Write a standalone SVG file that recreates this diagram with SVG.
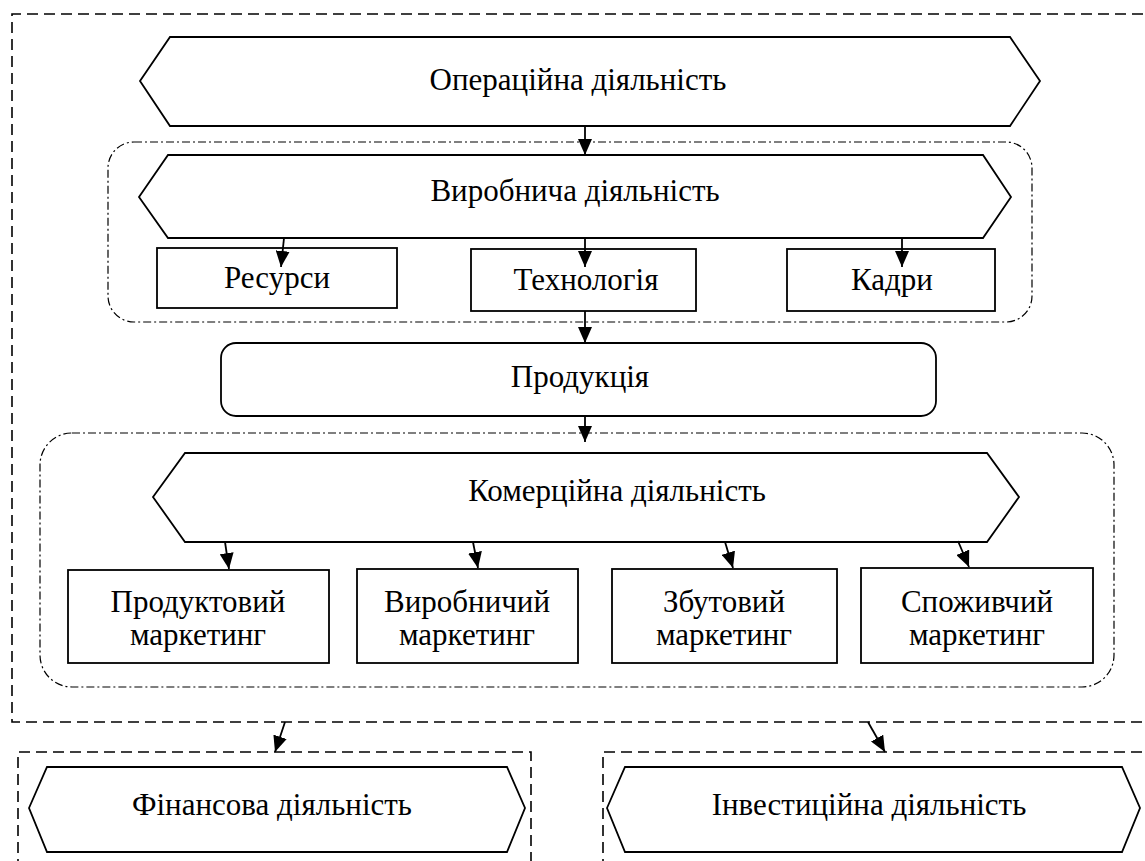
<svg xmlns="http://www.w3.org/2000/svg" width="1145" height="861" viewBox="0 0 1145 861">
<defs>
<marker id="ah" markerUnits="userSpaceOnUse" markerWidth="16" markerHeight="14" refX="16" refY="7" orient="auto">
<path d="M0,0 L16,7 L0,14 z" fill="#000"/>
</marker>
<style>
.dash{fill:none;stroke:#000;stroke-width:1.6;stroke-dasharray:11 6}
.dd{fill:none;stroke:#000;stroke-width:1.2;stroke-dasharray:8 3 2 3}
.sh{fill:#fff;stroke:#000;stroke-width:1.8}
.t{font-family:'Liberation Serif','DejaVu Serif',serif;font-size:31px;fill:#000;text-anchor:middle}
.c line{stroke:#000;stroke-width:1.8;marker-end:url(#ah)}
</style>
</defs>
<rect width="1145" height="861" fill="#fff"/>
<g id="frames">
<path class="dash" d="M1160,14 H12 V722 H1160"/>
<rect class="dd" x="108" y="142" width="924" height="180" rx="26"/>
<rect class="dd" x="40" y="433" width="1074" height="254" rx="32"/>
<path class="dash" d="M18,870 V752 H531 V870"/>
<path class="dash" d="M603,870 V752 H1160"/>
</g>
<g id="operational">
<polygon class="sh" points="140,81 170,37 1010,37 1040,81 1010,126 170,126"/>
<text class="t" x="578" y="90">Операційна діяльність</text>
</g>
<g id="production-activity">
<polygon class="sh" points="139,197 168,155 983,155 1011,197 983,238 168,238"/>
<text class="t" x="575" y="201">Виробнича діяльність</text>
</g>
<g id="resources">
<rect class="sh" x="157" y="248" width="240" height="60"/>
<text class="t" x="277" y="288">Ресурси</text>
</g>
<g id="technology">
<rect class="sh" x="471" y="249" width="225" height="62"/>
<text class="t" x="586" y="290">Технологія</text>
</g>
<g id="staff">
<rect class="sh" x="787" y="249" width="208" height="62"/>
<text class="t" x="892" y="290">Кадри</text>
</g>
<g id="products">
<rect class="sh" x="221" y="343" width="715" height="73" rx="15"/>
<text class="t" x="580" y="387">Продукція</text>
</g>
<g id="commercial">
<polygon class="sh" points="153,497 185,453 987,453 1019,497 987,542 185,542"/>
<text class="t" x="617" y="501">Комерційна діяльність</text>
</g>
<g id="product-marketing">
<rect class="sh" x="68" y="570" width="261" height="93"/>
<text class="t" x="198" y="612">Продуктовий</text>
<text class="t" x="198" y="645">маркетинг</text>
</g>
<g id="industrial-marketing">
<rect class="sh" x="357" y="569" width="221" height="94"/>
<text class="t" x="467" y="612">Виробничий</text>
<text class="t" x="467" y="645">маркетинг</text>
</g>
<g id="sales-marketing">
<rect class="sh" x="612" y="569" width="225" height="94"/>
<text class="t" x="724" y="612">Збутовий</text>
<text class="t" x="724" y="645">маркетинг</text>
</g>
<g id="consumer-marketing">
<rect class="sh" x="861" y="568" width="232" height="95"/>
<text class="t" x="977" y="612">Споживчий</text>
<text class="t" x="977" y="645">маркетинг</text>
</g>
<g id="financial">
<polygon class="sh" points="29,808 47,767 507,767 525,808 507,852 47,852"/>
<text class="t" x="272" y="815">Фінансова діяльність</text>
</g>
<g id="investment">
<polygon class="sh" points="607,808 625,767 1122,767 1140,808 1122,852 625,852"/>
<text class="t" x="869" y="815">Інвестиційна діяльність</text>
</g>
<g id="connectors" class="c">
<line x1="585" y1="126" x2="585" y2="155"/>
<line x1="284" y1="238" x2="281" y2="267"/>
<line x1="585" y1="238" x2="585" y2="267"/>
<line x1="902" y1="238" x2="902" y2="267"/>
<line x1="585" y1="311" x2="585" y2="343"/>
<line x1="585" y1="416" x2="585" y2="442"/>
<line x1="225" y1="542" x2="229" y2="569"/>
<line x1="473" y1="542" x2="478" y2="568"/>
<line x1="725" y1="542" x2="733" y2="568"/>
<line x1="958" y1="541" x2="969" y2="567"/>
<line x1="285" y1="722" x2="275" y2="752"/>
<line x1="868" y1="722" x2="885" y2="752"/>
</g>
</svg>
